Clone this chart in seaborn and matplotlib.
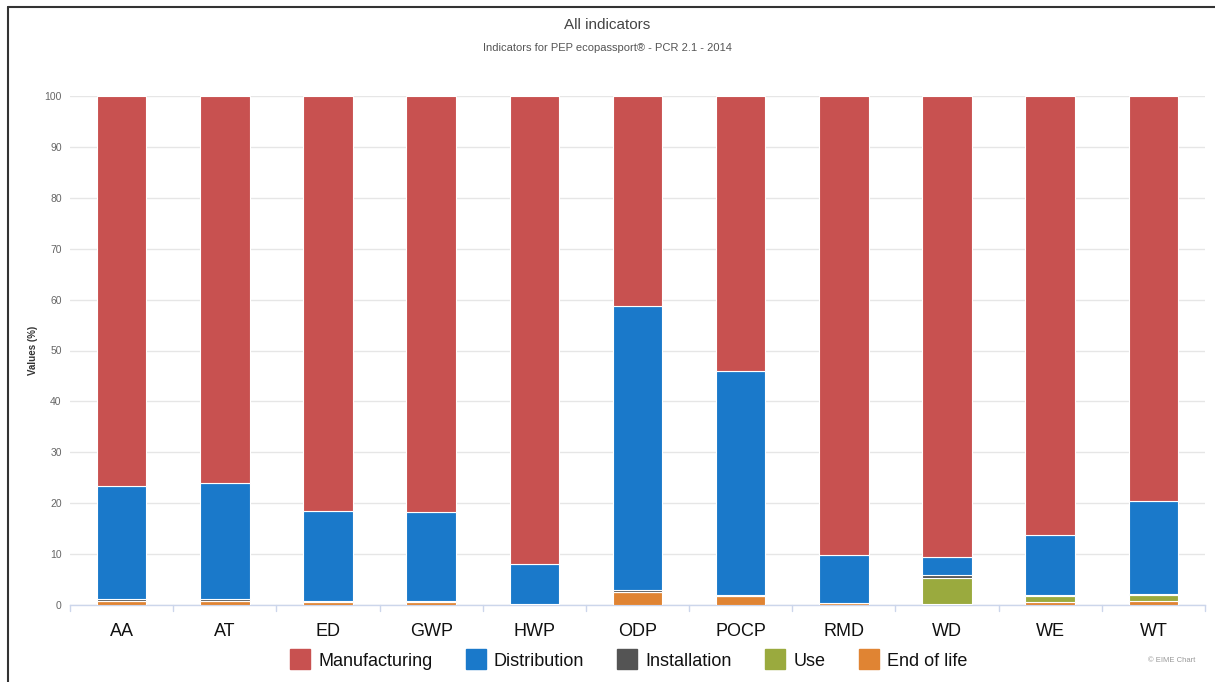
import numpy as np
import pandas as pd
import matplotlib
matplotlib.use("Agg")
import matplotlib.pyplot as plt
from matplotlib.lines import Line2D
import seaborn as sns

# values (percent of total per indicator)
indicators = ["AA", "AT", "ED", "GWP", "HWP", "ODP", "POCP", "RMD", "WD", "WE", "WT"]
end_of_life = [0.8, 0.8, 0.6, 0.6, 0.1, 2.6, 1.8, 0.3, 0.1, 0.5, 0.8]
use = [0.0, 0.0, 0.0, 0.0, 0.0, 0.0, 0.0, 0.0, 5.2, 1.3, 1.2]
installation = [0.4, 0.4, 0.2, 0.1, 0.1, 0.3, 0.1, 0.1, 0.5, 0.1, 0.1]
distribution = [22.2, 22.8, 17.7, 17.6, 7.9, 55.8, 44.1, 9.4, 3.7, 11.9, 18.3]
manufacturing = [76.6, 76.0, 81.5, 81.7, 91.9, 41.3, 54.0, 90.2, 90.5, 86.2, 79.6]

stage_names = ["Manufacturing", "Distribution", "Installation", "Use", "End of life"]
stage_colors = ["#c85150", "#1a79ca", "#545454", "#9aaa3e", "#e08433"]

sns.set_theme(style="white")
plt.rcParams["font.family"] = ["Liberation Sans", "DejaVu Sans"]

fig = plt.figure(figsize=(12.15, 6.82), dpi=100)
ax = fig.add_axes([70 / 1215, 1 - 605 / 682, 1135 / 1215, 509 / 682])

# stack from the bottom up: end of life first, manufacturing on top
layers = [end_of_life, use, installation, distribution, manufacturing]
layer_colors = stage_colors[::-1]
bottom = np.zeros(len(indicators))
for vals, col in zip(layers, layer_colors):
    df = pd.DataFrame({"indicator": indicators, "value": vals})
    sns.barplot(data=df, x="indicator", y="value", bottom=bottom, color=col,
                width=0.48, edgecolor="white", linewidth=0.8, saturation=1,
                ax=ax, zorder=3)
    bottom = bottom + np.array(vals)

ax.set_xlim(-0.5, len(indicators) - 0.5)
ax.set_ylim(0, 100)
ax.set_yticks(range(0, 101, 10))
ax.yaxis.grid(True, color="#e6e6e6", linewidth=1, zorder=0)
ax.xaxis.grid(False)
for s in ["top", "right", "left"]:
    ax.spines[s].set_visible(False)
ax.spines["bottom"].set_color("#ccd6eb")
ax.spines["bottom"].set_linewidth(1)

ax.tick_params(axis="y", labelsize=7.5, labelcolor="#666666", length=0, pad=6)
ax.tick_params(axis="x", labelsize=13, labelcolor="#111111", length=0, pad=13)
ax.set_xlabel("")
ax.set_ylabel("")
fig.text(33 / 1215, 1 - 350 / 682, "Values (%)", rotation=90, ha="center", va="center",
         fontsize=7, fontweight="bold", color="#333333")

# small tick marks between categories like the original
for i in range(len(indicators) + 1):
    ax.plot([i - 0.5, i - 0.5], [0, -1.2], color="#ccd6eb", lw=1, clip_on=False, zorder=2)

fig.text(0.5, 1 - 25 / 682, "All indicators", ha="center", va="center",
         fontsize=11, color="#444444")
fig.text(0.5, 1 - 48 / 682, "Indicators for PEP ecopassport\u00ae - PCR 2.1 - 2014",
         ha="center", va="center", fontsize=8, color="#555555")

handles = [Line2D([0], [0], marker="s", linestyle="", markersize=15,
                  markerfacecolor=c, markeredgecolor=c) for c in stage_colors]
leg = fig.legend(handles, stage_names, loc="center", bbox_to_anchor=(0.517, 1 - 661 / 682),
                 ncol=5, frameon=False, fontsize=13, handletextpad=0.4,
                 columnspacing=1.8, handlelength=1.2)
for t in leg.get_texts():
    t.set_color("#111111")

fig.text(1195 / 1215, 1 - 661 / 682, "\u00a9 EIME Chart", ha="right", va="center",
         fontsize=5.5, color="#999999")

# frame lines on the top and left of the picture
fig.add_artist(Line2D([8 / 1215, 1], [1 - 7 / 682, 1 - 7 / 682], color="#333333", lw=1.5))
fig.add_artist(Line2D([8 / 1215, 8 / 1215], [0, 1 - 7 / 682], color="#333333", lw=1.5))

fig.savefig("out.png", dpi=100)
